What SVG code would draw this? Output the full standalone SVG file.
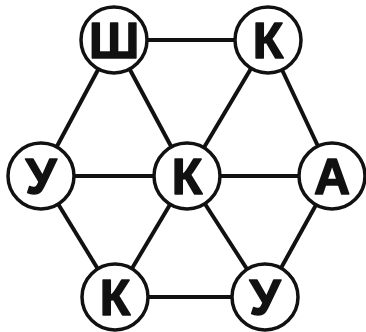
<svg xmlns="http://www.w3.org/2000/svg" width="366" height="332" viewBox="0 0 366 332">
<style>
.e{stroke:#111;stroke-width:4;fill:none}
.n circle{fill:#fff;stroke:#111;stroke-width:3.5}
.n text{font-family:"Liberation Sans",Arial,sans-serif;font-weight:bold;font-size:50px;fill:#111;stroke:#111;stroke-width:1.5;stroke-linejoin:round;text-anchor:middle}
</style>
<rect width="366" height="332" fill="#fff"/>
<g id="connectors">
<line class="e" x1="114" y1="40" x2="268" y2="40"/>
<line class="e" x1="114" y1="40" x2="41" y2="176"/>
<line class="e" x1="114" y1="40" x2="187" y2="176"/>
<line class="e" x1="268" y1="40" x2="187" y2="176"/>
<line class="e" x1="268" y1="40" x2="332" y2="176"/>
<line class="e" x1="41" y1="176" x2="332" y2="176"/>
<line class="e" x1="41" y1="176" x2="115" y2="297"/>
<line class="e" x1="187" y1="176" x2="115" y2="297"/>
<line class="e" x1="187" y1="176" x2="265" y2="297"/>
<line class="e" x1="332" y1="176" x2="265" y2="297"/>
<line class="e" x1="115" y1="297" x2="265" y2="297"/>
</g>
<g id="n1" class="n"><circle cx="114" cy="40" r="33"/><text x="114" y="58">Ш</text></g>
<g id="n2" class="n"><circle cx="268" cy="40" r="33"/><text x="268" y="58">К</text></g>
<g id="n3" class="n"><circle cx="41" cy="176" r="33"/><text x="41" y="194">У</text></g>
<g id="n4" class="n"><circle cx="187" cy="176" r="33"/><text x="187" y="194">К</text></g>
<g id="n5" class="n"><circle cx="332" cy="176" r="33"/><text x="332" y="194">А</text></g>
<g id="n6" class="n"><circle cx="115" cy="297" r="33"/><text x="115" y="315">К</text></g>
<g id="n7" class="n"><circle cx="265" cy="297" r="33"/><text x="265" y="315">У</text></g>
</svg>
